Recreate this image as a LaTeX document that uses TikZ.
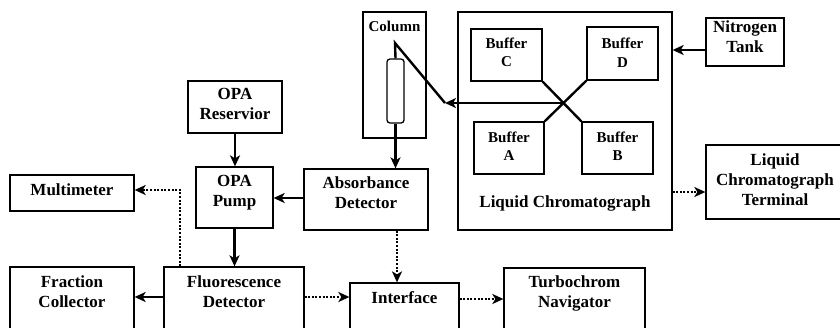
\documentclass[tikz,border=0pt]{standalone}
\usepackage{fontspec}
\setmainfont{Liberation Serif}
\usetikzlibrary{arrows.meta,calc}
\tikzset{
  box/.style={draw, line width=1.3pt, inner sep=0pt, rectangle},
  txt/.style={inner sep=0pt, align=center, font=\fontsize{17}{20}\selectfont\bfseries},
  stxt/.style={inner sep=0pt, align=center, font=\fontsize{15}{18.5}\selectfont\bfseries},
  arr/.style={line width=2.4pt, -{Stealth[length=11pt,width=10pt,inset=3pt]}},
  dotarr/.style={line width=2.6pt, dash pattern=on 2pt off 1.6pt, -{Stealth[length=11pt,width=10pt,inset=3pt]}},
  ln/.style={line width=2.4pt}
}
\begin{document}
\begin{tikzpicture}[x=1pt,y=-1pt]
\useasboundingbox[fill=white] (0,0) rectangle (840,327);
\clip (0,0) rectangle (840,327);
% Column
\node[box, minimum width=63pt, minimum height=126pt] (col) at (394.5,75) {};
\node[stxt] (colT) at (394.5,26) {Column};
\node[box, rounded corners=3pt, minimum width=17pt, minimum height=64pt] (tube) at (395.5,91) {};
% Liquid chromatograph
\node[box, minimum width=214pt, minimum height=218pt] (lc) at (565,121) {};
\node[txt] (lcT) at (565,203) {Liquid Chromatograph};
\node[box, minimum width=71pt, minimum height=52pt] (bufC) at (506.5,55) {};
\node[stxt] (bufCT) at (506.5,52.5) {Buffer\\C};
\node[box, minimum width=71pt, minimum height=53pt] (bufD) at (622.5,53.5) {};
\node[stxt] (bufDT) at (622.5,52.5) {Buffer\\D};
\node[box, minimum width=70pt, minimum height=52pt] (bufA) at (509,148) {};
\node[stxt] (bufAT) at (509,146) {Buffer\\A};
\node[box, minimum width=71pt, minimum height=52pt] (bufB) at (617.5,148) {};
\node[stxt] (bufBT) at (617.5,146) {Buffer\\B};
% Nitrogen tank
\node[box, minimum width=78pt, minimum height=48pt] (n2) at (745,42) {};
\node[txt] (n2T) at (745,36.5) {Nitrogen\\Tank};
% OPA
\node[box, minimum width=94pt, minimum height=52pt] (res) at (235,107) {};
\node[txt] (resT) at (235,103.5) {OPA\\Reservior};
\node[box, minimum width=77pt, minimum height=61pt] (pump) at (234.5,197.5) {};
\node[txt] (pumpT) at (234.5,193) {OPA\\Pump};
% Absorbance
\node[box, minimum width=124pt, minimum height=61pt] (abs) at (366,199.5) {};
\node[txt] (absT) at (366,193) {Absorbance\\Detector};
% Multimeter
\node[box, minimum width=124pt, minimum height=36pt] (mult) at (72,193) {};
\node[txt] (multT) at (72,190) {Multimeter};
% LC terminal
\node[box, minimum width=138pt, minimum height=74pt] (lct) at (775,182) {};
\node[txt] (lctT) at (775,180) {Liquid\\Chromatograph\\Terminal};
% Bottom row
\node[box, minimum width=124pt, minimum height=93pt] (frac) at (72,313.5) {};
\node[txt] (fracT) at (72,292) {Fraction\\Collector};
\node[box, minimum width=140pt, minimum height=93pt] (fluor) at (234,313.5) {};
\node[txt] (fluorT) at (234,292) {Fluorescence\\Detector};
\node[box, minimum width=109pt, minimum height=77pt] (intf) at (404.5,321.5) {};
\node[txt] (intfT) at (404.5,298) {Interface};
\node[box, minimum width=141pt, minimum height=92pt] (turbo) at (574.5,314) {};
\node[txt] (turboT) at (574.5,293) {Turbochrom\\Navigator};
% Buffer cross
\draw[ln] (bufC.south east) -- (bufB.north west);
\draw[ln] (bufD.south west) -- (bufA.north east);
\coordinate (cross) at (intersection of bufC.south east--bufB.north west and bufD.south west--bufA.north east);
\coordinate (colTop) at (395,43);
\coordinate (bend) at (445,103);
\draw[ln] (tube.north) -- (colTop) -- (bend);
\draw[arr] (cross) -- (bend |- cross);
% Connectors
\draw[arr] ([yshift=-8pt]n2.west) -- ([yshift=-8pt]n2.west -| lc.east);
\draw[arr] (tube.south) -- (tube.south |- abs.north);
\draw[arr] (res.south) -- (res.south |- pump.north);
\draw[arr] ([yshift=1.5pt]abs.west) -- ([yshift=1.5pt]abs.west -| pump.east);
\draw[arr] (pump.south) -- (pump.south |- fluor.north);
\draw[arr] ([yshift=16.5pt]fluor.west) -- ([yshift=16.5pt]fluor.west -| frac.east);
\draw[dotarr] ([yshift=16.5pt]fluor.east) -- ([yshift=16.5pt]fluor.east -| intf.west);
\draw[dotarr] ([xshift=31pt]abs.south) -- ([xshift=31pt]abs.south |- intf.north);
\draw[dotarr] ([yshift=22.5pt]intf.east) -- ([yshift=22.5pt]intf.east -| turbo.west);
\draw[dotarr] ([yshift=-71pt]lc.east) -- ([yshift=-71pt]lc.east -| lct.west);
\draw[dotarr] ([xshift=-54pt]fluor.north) |- ([yshift=3pt]mult.east);
\end{tikzpicture}
\end{document}
